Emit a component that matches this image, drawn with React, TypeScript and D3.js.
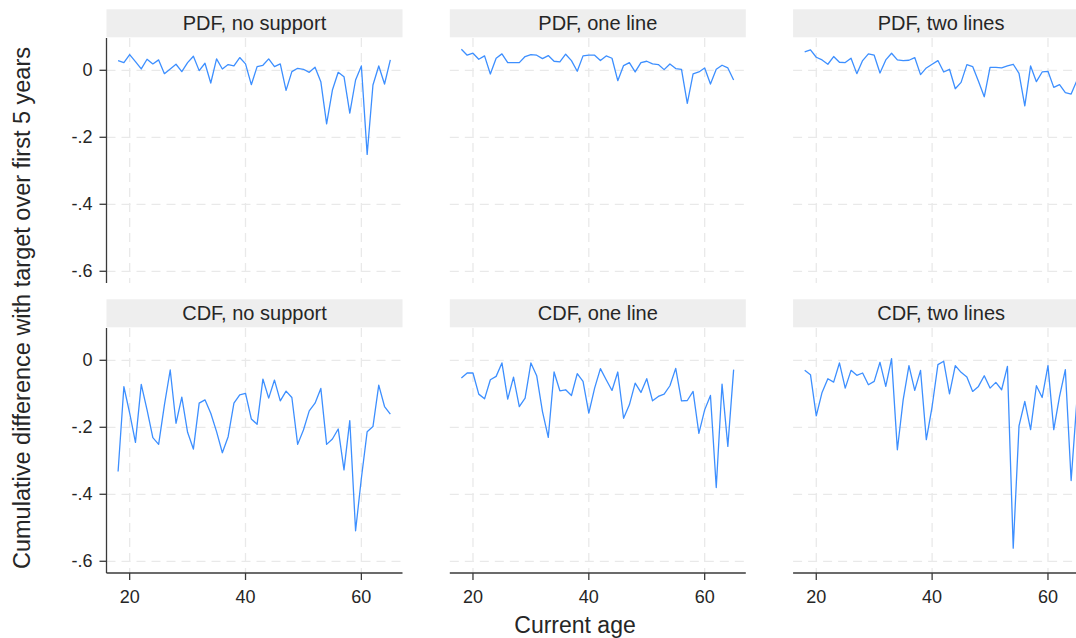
import React from "react";
import * as d3 from "d3";

// Current age (x) shared by every panel
const ages = [
  18, 19, 20, 21, 22, 23, 24, 25, 26, 27, 28, 29, 30, 31, 32, 33, 34, 35, 36, 37, 38, 39, 40, 41,
  42, 43, 44, 45, 46, 47, 48, 49, 50, 51, 52, 53, 54, 55, 56, 57, 58, 59, 60, 61, 62, 63, 64, 65,
];

// Panel titles, row by row
const panelTitles = [
  "PDF, no support",
  "PDF, one line",
  "PDF, two lines",
  "CDF, no support",
  "CDF, one line",
  "CDF, two lines",
];

// Cumulative difference with target over first 5 years, one array per panel
const pdfNoSupport = [
  0.029, 0.023, 0.047, 0.026, 0.004, 0.033, 0.019, 0.031, -0.01, 0.004, 0.018, -0.004, 0.023, 0.042,
  -0.001, 0.021, -0.038, 0.034, 0.004, 0.017, 0.013, 0.038, 0.019, -0.043, 0.011, 0.015, 0.034, 0.011,
  0.019, -0.06, -0.004, 0.006, 0.003, -0.006, 0.009, -0.034, -0.16, -0.059, -0.006, -0.019, -0.128,
  -0.029, 0.013, -0.251, -0.044, 0.013, -0.041, 0.031,
];
const pdfOneLine = [
  0.063, 0.045, 0.051, 0.033, 0.043, -0.011, 0.036, 0.049, 0.023, 0.023, 0.023, 0.041, 0.047, 0.045,
  0.035, 0.044, 0.027, 0.025, 0.048, 0.029, -0.003, 0.043, 0.045, 0.045, 0.029, 0.043, 0.036, -0.031,
  0.014, 0.023, -0.005, 0.023, 0.027, 0.019, 0.017, 0.002, 0.019, 0.005, 0.003, -0.099, -0.011,
  -0.005, 0.007, -0.041, 0.003, 0.015, 0.007, -0.029,
];
const pdfTwoLines = [
  0.055, 0.061, 0.039, 0.031, 0.018, 0.041, 0.024, 0.023, 0.036, -0.01, 0.029, 0.049, 0.045, -0.008,
  0.031, 0.051, 0.031, 0.029, 0.03, 0.038, -0.013, 0.007, 0.018, 0.029, -0.005, 0.003, -0.055, -0.036,
  0.017, 0.011, -0.033, -0.079, 0.009, 0.009, 0.007, 0.013, 0.018, -0.009, -0.106, 0.013, -0.034,
  -0.005, -0.003, -0.051, -0.043, -0.067, -0.071, -0.03,
];
const cdfNoSupport = [
  -0.332, -0.079, -0.158, -0.245, -0.072, -0.148, -0.231, -0.251, -0.133, -0.029, -0.188, -0.11,
  -0.215, -0.265, -0.128, -0.118, -0.158, -0.213, -0.276, -0.228, -0.128, -0.103, -0.099, -0.175,
  -0.191, -0.056, -0.113, -0.059, -0.121, -0.092, -0.111, -0.251, -0.208, -0.151, -0.128, -0.084,
  -0.251, -0.235, -0.205, -0.327, -0.18, -0.509, -0.352, -0.213, -0.198, -0.074, -0.138, -0.161,
];
const cdfOneLine = [
  -0.053, -0.038, -0.038, -0.101, -0.115, -0.058, -0.048, -0.008, -0.116, -0.05, -0.138, -0.113,
  -0.008, -0.046, -0.153, -0.23, -0.035, -0.091, -0.088, -0.105, -0.04, -0.063, -0.158, -0.083,
  -0.025, -0.058, -0.09, -0.035, -0.173, -0.133, -0.068, -0.096, -0.055, -0.121, -0.108, -0.101,
  -0.076, -0.024, -0.121, -0.12, -0.093, -0.218, -0.148, -0.105, -0.38, -0.071, -0.257, -0.028,
];
const cdfTwoLines = [
  -0.03, -0.043, -0.166, -0.096, -0.055, -0.065, -0.008, -0.083, -0.03, -0.045, -0.038, -0.073,
  -0.063, -0.006, -0.078, 0.005, -0.267, -0.118, -0.016, -0.09, -0.03, -0.237, -0.138, -0.013,
  -0.003, -0.1, -0.016, -0.036, -0.05, -0.093, -0.078, -0.046, -0.083, -0.066, -0.088, -0.018,
  -0.561, -0.196, -0.123, -0.207, -0.076, -0.111, -0.016, -0.207, -0.108, -0.028, -0.359, -0.118,
];

const panelSeries = [pdfNoSupport, pdfOneLine, pdfTwoLines, cdfNoSupport, cdfOneLine, cdfTwoLines];

// Axis ticks
const xTicks = [20, 40, 60];
const yTicks = [0, -0.2, -0.4, -0.6];
const yTickLabels = ["0", "-.2", "-.4", "-.6"];

const WIDTH = 1076;
const HEIGHT = 638;
const PANEL_W = 296;
const PANEL_H = 245;
const COL_STEP = 343.3;
const ROW_STEP = 290;
const LEFT0 = 106.5;
const TOP0 = 38;
const STRIP_H = 28;
const FONT = "'Liberation Sans', Arial, Helvetica, sans-serif";
const LINE_COLOR = "#3d8fff";
const TEXT_COLOR = "#262626";
const AXIS_COLOR = "#3a3a3a";
const GRID_COLOR = "#e9e9e9";

export default function App() {
  const x = d3.scaleLinear().domain([16, 67.1]).range([0, PANEL_W]);
  const y = d3.scaleLinear().domain([0.0964, -0.635]).range([0, PANEL_H]);
  const line = d3
    .line<[number, number]>()
    .x((d) => x(d[0]))
    .y((d) => y(d[1]));

  return (
    <svg
      width={WIDTH}
      height={HEIGHT}
      style={{ position: "absolute", left: 0, top: 0, background: "#fff" }}
      fontFamily={FONT}
    >
      <rect width={WIDTH} height={HEIGHT} fill="#fff" />
      {panelSeries.map((vals, i) => {
        const row = Math.floor(i / 3);
        const col = i % 3;
        const left = LEFT0 + col * COL_STEP;
        const top = TOP0 + row * ROW_STEP;
        const pts = ages.map((a, k) => [a, vals[k]] as [number, number]);
        const clipId = `clip-${i}`;
        return (
          <g key={i} transform={`translate(${left},${top})`}>
            <defs>
              <clipPath id={clipId}>
                <rect x={0} y={0} width={PANEL_W} height={PANEL_H} />
              </clipPath>
            </defs>
            {/* title strip */}
            <rect x={0} y={-STRIP_H - 0.7} width={PANEL_W} height={STRIP_H} fill="#eeeeee" />
            <text
              x={PANEL_W / 2}
              y={-STRIP_H / 2 - 0.7}
              textAnchor="middle"
              dominantBaseline="central"
              fontSize={20}
              fill={TEXT_COLOR}
            >
              {panelTitles[i]}
            </text>
            {/* grid */}
            {yTicks.map((t) => (
              <line
                key={`gy${t}`}
                x1={0}
                x2={PANEL_W}
                y1={y(t)}
                y2={y(t)}
                stroke={GRID_COLOR}
                strokeWidth={1.3}
                strokeDasharray="9,6"
              />
            ))}
            {xTicks.map((t) => (
              <line
                key={`gx${t}`}
                x1={x(t)}
                x2={x(t)}
                y1={0}
                y2={PANEL_H}
                stroke={GRID_COLOR}
                strokeWidth={1.3}
                strokeDasharray="9,6"
              />
            ))}
            {/* series */}
            <path
              d={line(pts) || ""}
              fill="none"
              stroke={LINE_COLOR}
              strokeWidth={1.3}
              strokeLinejoin="round"
              clipPath={`url(#${clipId})`}
            />
            {/* y axis on the left column */}
            {col === 0 && (
              <g>
                <line x1={0} x2={0} y1={0} y2={PANEL_H} stroke={AXIS_COLOR} strokeWidth={1.3} />
                {yTicks.map((t, k) => (
                  <g key={`yt${t}`} transform={`translate(0,${y(t)})`}>
                    <line x1={-7} x2={0} stroke={AXIS_COLOR} strokeWidth={1.3} />
                    <text
                      x={-14}
                      textAnchor="end"
                      dominantBaseline="central"
                      fontSize={18}
                      fill={TEXT_COLOR}
                    >
                      {yTickLabels[k]}
                    </text>
                  </g>
                ))}
              </g>
            )}
            {/* x axis on the bottom row */}
            {row === 1 && (
              <g transform={`translate(0,${PANEL_H})`}>
                <line x1={0} x2={PANEL_W} stroke={AXIS_COLOR} strokeWidth={1.3} />
                {xTicks.map((t) => (
                  <g key={`xt${t}`} transform={`translate(${x(t)},0)`}>
                    <line y1={0} y2={7} stroke={AXIS_COLOR} strokeWidth={1.3} />
                    <text y={24} textAnchor="middle" dominantBaseline="central" fontSize={18} fill={TEXT_COLOR}>
                      {t}
                    </text>
                  </g>
                ))}
              </g>
            )}
          </g>
        );
      })}
      <text
        x={575}
        y={625}
        textAnchor="middle"
        dominantBaseline="central"
        fontSize={23}
        fill={TEXT_COLOR}
      >
        Current age
      </text>
      <text
        transform="translate(22,308) rotate(-90)"
        textAnchor="middle"
        dominantBaseline="central"
        fontSize={23.5}
        fill={TEXT_COLOR}
      >
        Cumulative difference with target over first 5 years
      </text>
    </svg>
  );
}
